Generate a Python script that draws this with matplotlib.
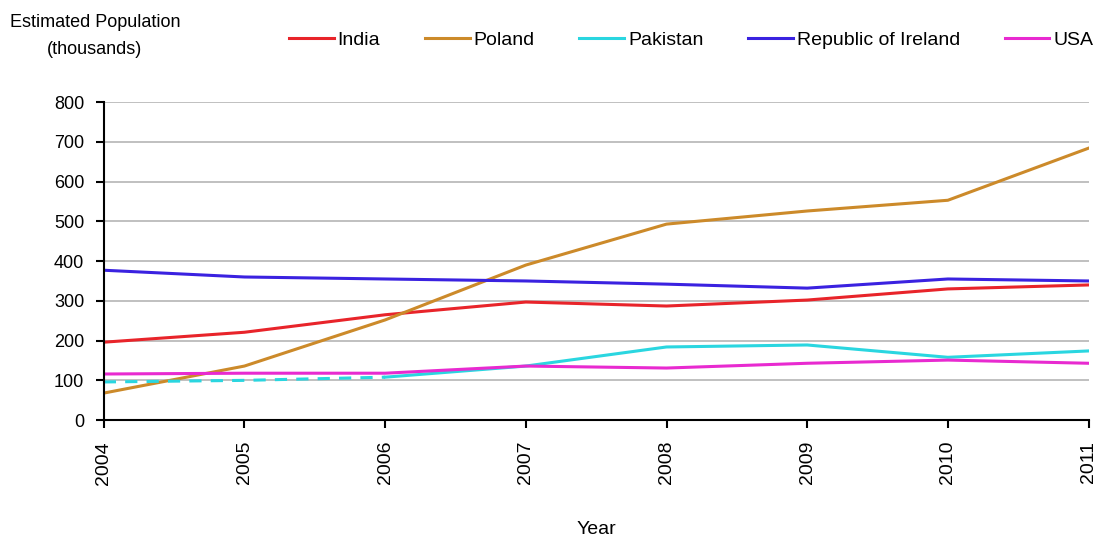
import matplotlib.pyplot as plt

plt.rcParams['font.family'] = ['Liberation Sans', 'DejaVu Sans']

years = [2004, 2005, 2006, 2007, 2008, 2009, 2010, 2011]
india = [196, 221, 265, 297, 287, 302, 330, 340]
poland = [68, 136, 252, 390, 493, 526, 553, 684]
pakistan = [96, 100, 108, 136, 184, 189, 158, 174]
ireland = [377, 360, 355, 350, 342, 332, 355, 350]
usa = [116, 118, 118, 136, 131, 143, 151, 143]

fig = plt.figure(figsize=(11.04, 5.4), dpi=100)
ax = fig.add_axes([0.094, 0.222, 0.892, 0.589])

lw = 2.2
ax.plot(years, india, color="#e8242a", lw=lw, label="India")
ax.plot(years, poland, color="#cc8a2a", lw=lw, label="Poland")
# Pakistan: dashed for the first years, solid afterwards
ax.plot(years[:3], pakistan[:3], color="#2ad6e0", lw=lw, ls=(0, (4, 3)))
ax.plot(years[2:], pakistan[2:], color="#2ad6e0", lw=lw, label="Pakistan")
ax.plot(years, ireland, color="#3a22e0", lw=lw, label="Republic of Ireland")
ax.plot(years, usa, color="#e82ad0", lw=lw, label="USA")

ax.set_xlim(2004, 2011)
ax.set_ylim(0, 800)
ax.set_yticks(range(0, 801, 100))
ax.set_xticks(years)
ax.set_xticklabels([str(y) for y in years], rotation=90)
ax.tick_params(direction="out", length=6, width=1.5, color="black")
ax.tick_params(axis="y", labelsize=13, pad=8)
ax.tick_params(axis="x", labelsize=14, pad=9)
ax.grid(axis="y", color="#c0c0c0", lw=1.4)
ax.set_axisbelow(True)
for s in ["top", "right"]:
    ax.spines[s].set_visible(False)
ax.spines["left"].set_linewidth(1.5)
ax.spines["bottom"].set_linewidth(1.5)

ax.set_xlabel("Year", fontsize=14)
ax.xaxis.set_label_coords(0.5, -0.345)
ax.xaxis.label.set_va("center")

fig.text(0.086, 0.933, "Estimated Population\n(thousands)", ha="center", va="center",
         fontsize=13, linespacing=1.8)

ax.legend(loc="center left", bbox_to_anchor=(289 / 1104, 1 - 40 / 540),
          bbox_transform=fig.transFigure, ncol=5, frameon=False,
          fontsize=14, handlelength=2.3, handletextpad=0.2, columnspacing=2.3,
          borderpad=0, borderaxespad=0)

fig.savefig("out.png", dpi=100)
